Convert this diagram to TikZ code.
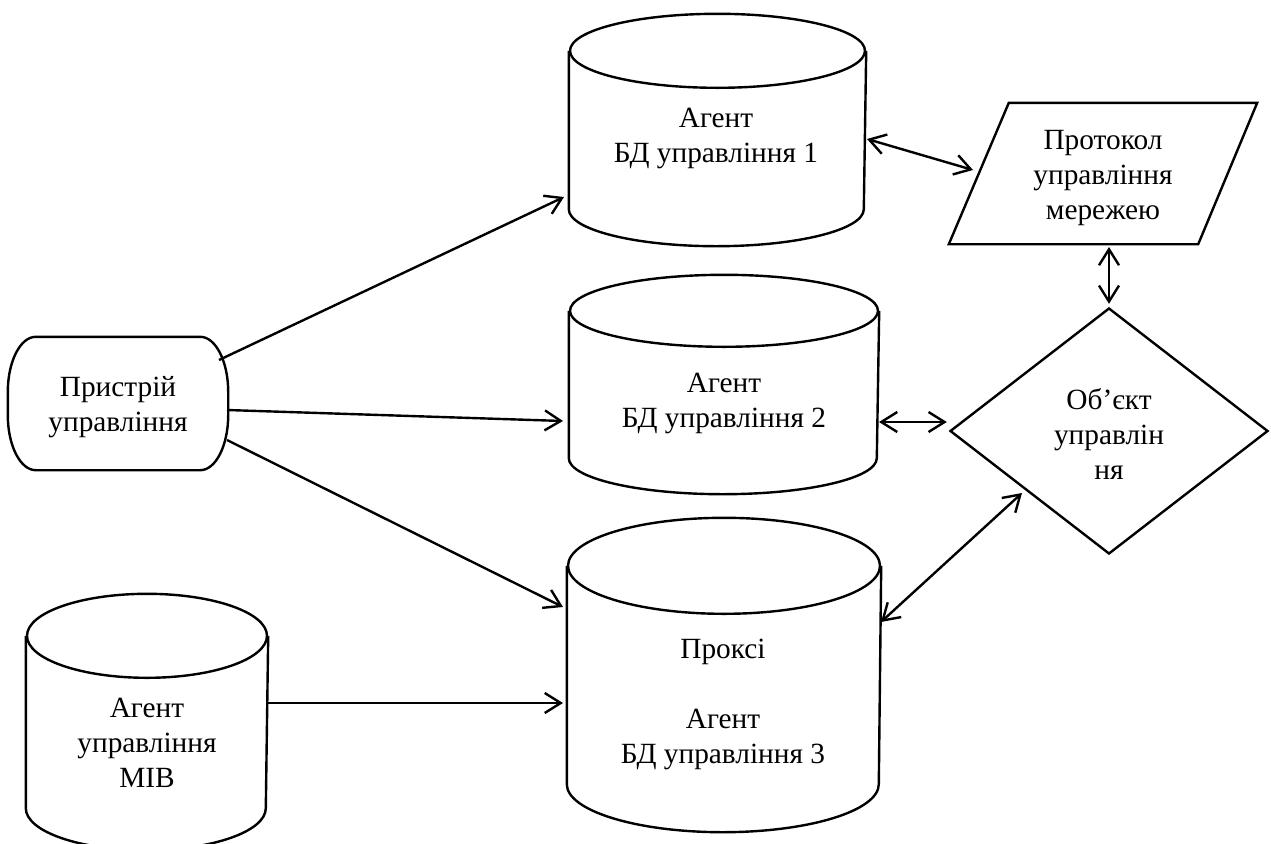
\documentclass[tikz,border=0pt]{standalone}
\usepackage{fontspec}
\setmainfont{Liberation Serif}
\usetikzlibrary{arrows.meta,shapes.geometric}
\newcommand\dbshape[3]{% node, half width (px), ry (px)
  \draw ([shift={(0,#3)}]#1.north west) -- ([shift={(0,-#3)}]#1.south west)
    arc[start angle=180,end angle=0,x radius=#2,y radius=#3]
    -- ([shift={(0,#3)}]#1.north east);
  \draw ([shift={(0,#3)}]#1.north) ellipse[x radius=#2,y radius=#3];
}
\begin{document}
\begin{tikzpicture}[x=0.75pt,y=-0.75pt,line width=1.8pt,
  area/.style={rectangle,inner sep=0pt,draw=none},
  txt/.style={align=center,inner sep=0pt,font=\fontsize{22pt}{26.25pt}\selectfont},
  arr/.style={-{Straight Barb[length=12pt,width=15pt]}},
  darr/.style={{Straight Barb[length=12pt,width=15pt]}-{Straight Barb[length=12pt,width=15pt]}}]
\useasboundingbox (0,0) rectangle (1271,843);

% shape areas
\node[area,minimum width=221.25pt,minimum height=172.5pt] (c1) at (717.5,130) {};
\node[area,minimum width=231pt,minimum height=162.75pt] (c2) at (724,384.5) {};
\node[area,minimum width=234pt,minimum height=234pt] (c3) at (724,675) {};
\node[area,minimum width=180pt,minimum height=190.5pt] (mib) at (147,722) {};
\node[area,minimum width=163.5pt,minimum height=98.25pt] (pill) at (118,403.5) {};
\node[area,minimum width=229.5pt,minimum height=104.25pt] (proto) at (1103,173.5) {};
\node[diamond,draw,inner sep=0pt,minimum width=238.5pt,minimum height=184.5pt] (obj) at (1109,431) {};

% outlines
\dbshape{c1}{147.5}{37}
\dbshape{c2}{154}{36}
\dbshape{c3}{156}{48}
\dbshape{mib}{120}{42}
\draw ([shift={(28,0)}]pill.north west) -- ([shift={(-28,0)}]pill.north east)
  arc[start angle=270,end angle=360,x radius=28,y radius=55]
  -- ([shift={(0,-55)}]pill.south east)
  arc[start angle=0,end angle=90,x radius=28,y radius=55]
  -- ([shift={(28,0)}]pill.south west)
  arc[start angle=90,end angle=180,x radius=28,y radius=55]
  -- ([shift={(0,55)}]pill.north west)
  arc[start angle=180,end angle=270,x radius=28,y radius=55] -- cycle;
\draw ([shift={(60,0)}]proto.north west) -- (proto.north east)
  -- ([shift={(-59,0)}]proto.south east) -- (proto.south west) -- cycle;

% texts
\node[txt] (t1) at (716,138.5) {Агент\\БД управління 1};
\node[txt] (t2) at (724,403.5) {Агент\\БД управління 2};
\node[txt] (t3) at (723,704) {Проксі\\[26.25pt]Агент\\БД управління 3};
\node[txt] (t4) at (147,743) {Агент\\управління\\MIB};
\node[txt] (t5) at (118,407) {Пристрій\\управління};
\node[txt] (t6) at (1103,178) {Протокол\\управління\\мережею};
\node[txt] (t7) at (1109,433.5) {Об’єкт\\управлін\\ня};

% connectors
\draw[arr] ([shift={(101,-43.5)}]pill.center) -- ([shift={(-153.5,67)}]c1.center);
\draw[arr] ([shift={(109,6.5)}]pill.center) -- ([shift={(-161,36.5)}]c2.center);
\draw[arr] ([shift={(109,36.5)}]pill.center) -- ([shift={(-161,-68)}]c3.center);
\draw[arr] ([shift={(120,-19)}]mib.center) -- ([shift={(-161,28)}]c3.center);
\draw[darr] ([shift={(149.5,9)}]c1.center) -- ([shift={(-130,-3.5)}]proto.center);
\draw[darr] ([shift={(6,73.5)}]proto.center) -- ([shift={(0,-3)}]obj.north);
\draw[darr] ([shift={(155,37.5)}]c2.center) -- ([shift={(-2,-9)}]obj.west);
\draw[darr] ([shift={(157,-53)}]c3.center) -- ([shift={(-87,62)}]obj.center);
\end{tikzpicture}
\end{document}
